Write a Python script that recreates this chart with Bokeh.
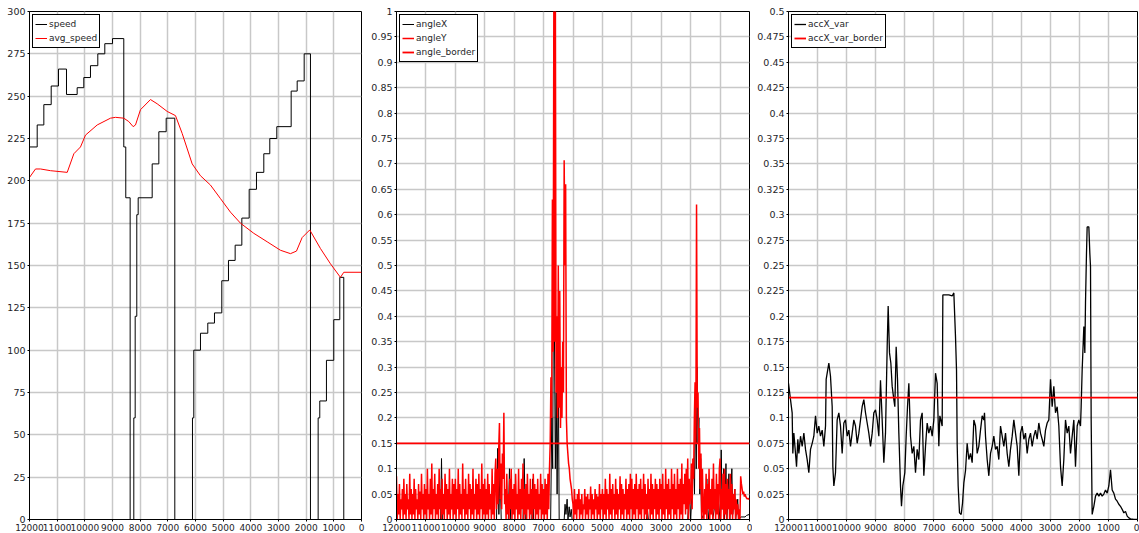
from bokeh.plotting import figure
from bokeh.models import Range1d, FixedTicker, CustomJSTickFormatter
from bokeh.layouts import row
from bokeh.embed import file_html
from bokeh.resources import INLINE

FONT = "DejaVu Sans"

# ---------------- data ----------------
x_ticks = [12000, 11000, 10000, 9000, 8000, 7000, 6000, 5000, 4000, 3000, 2000, 1000, 0]
speed_ticks = [0, 25, 50, 75, 100, 125, 150, 175, 200, 225, 250, 275, 300]
angle_ticks = [0, 0.05, 0.1, 0.15, 0.2, 0.25, 0.3, 0.35, 0.4, 0.45, 0.5, 0.55, 0.6,
               0.65, 0.7, 0.75, 0.8, 0.85, 0.9, 0.95, 1]
acc_ticks = [0, 0.025, 0.05, 0.075, 0.1, 0.125, 0.15, 0.175, 0.2, 0.225, 0.25, 0.275,
             0.3, 0.325, 0.35, 0.375, 0.4, 0.425, 0.45, 0.475, 0.5]

speed_x = [12000, 11722, 11482, 11216, 10952, 10663, 10277, 10037, 9796, 9531, 9278, 9000,
           8592, 8520, 8362, 8230, 8180, 8122, 8072, 7566, 7325, 7060, 6748, 6109, 6062,
           5820, 5556, 5314, 5050, 4808, 4567, 4325, 4060, 3796, 3531, 3315, 3061, 2542,
           2325, 2072, 1845, 1567, 1508, 1267, 1002, 785, 641, 0]
speed = [220, 233, 245, 256, 266, 251, 255, 261, 268, 275, 281, 284,
         220, 190, 0, 60, 120, 180, 190, 210, 229, 237, 0, 60, 100,
         110, 116, 122, 141, 153, 162, 178, 195, 205, 216, 225, 232, 253,
         259, 275, 0, 60, 70, 94, 118, 143, 0, 0]

avg_x = [12000, 11783, 11602, 11241, 10637, 10397, 10157, 9976, 9553, 9073, 8892, 8592,
         8411, 8253, 8169, 7989, 7627, 7385, 7024, 6723, 6482, 6120, 5820, 5459, 5097,
         4736, 4375, 3893, 3410, 2929, 2567, 2351, 2145, 1870, 1483, 1122, 761, 641, 0]
avg_speed = [202, 207, 207, 206, 205, 216, 220, 227, 233, 237, 237.5, 237,
             235, 232, 233, 242, 248, 245.5, 241, 238.5, 228, 210, 203, 197.5, 189.5,
             181.5, 175, 169, 164, 159, 157, 158.5, 166.5, 171, 160, 151, 143, 146, 146]

# angleY sampled every 25 units from 12000 down to 0 (one row per 1000 units)
angle_x = list(range(12000, -1, -25))
angleY = [
    # 12000 .. 11025
    0.085, 0.0, 0.05, 0.01, 0.07, 0.0, 0.04, 0.02, 0.06, 0.0, 0.08, 0.01, 0.05, 0.0, 0.07, 0.02, 0.04, 0.0, 0.09, 0.01,
    0.06, 0.0, 0.05, 0.01, 0.08, 0.0, 0.06, 0.02, 0.04, 0.0, 0.07, 0.01, 0.055, 0.0, 0.09, 0.02, 0.05, 0.0, 0.07, 0.01,
    # 11000 .. 10025
    0.06, 0.0, 0.1, 0.02, 0.05, 0.0, 0.08, 0.01, 0.11, 0.0, 0.06, 0.02, 0.09, 0.0, 0.05, 0.01, 0.07, 0.0, 0.1, 0.02,
    0.06, 0.0, 0.08, 0.01, 0.05, 0.0, 0.09, 0.02, 0.07, 0.0, 0.06, 0.01, 0.1, 0.0, 0.05, 0.02, 0.08, 0.0, 0.07, 0.01,
    # 10000 .. 9025
    0.08, 0.0, 0.06, 0.02, 0.1, 0.0, 0.07, 0.01, 0.05, 0.0, 0.11, 0.02, 0.06, 0.0, 0.08, 0.01, 0.05, 0.0, 0.09, 0.02,
    0.07, 0.0, 0.06, 0.01, 0.1, 0.0, 0.05, 0.02, 0.08, 0.0, 0.07, 0.01, 0.09, 0.0, 0.06, 0.02, 0.11, 0.0, 0.07, 0.01,
    # 9000 .. 8025
    0.08, 0.0, 0.06, 0.01, 0.09, 0.0, 0.07, 0.02, 0.05, 0.0, 0.1, 0.01, 0.07, 0.0, 0.09, 0.12, 0.02, 0.1, 0.03, 0.14,
    0.19, 0.04, 0.11, 0.02, 0.13, 0.08, 0.21, 0.03, 0.06, 0.0, 0.09, 0.01, 0.05, 0.0, 0.08, 0.02, 0.1, 0.0, 0.06, 0.01,
    # 8000 .. 7025
    0.07, 0.0, 0.09, 0.02, 0.05, 0.0, 0.1, 0.01, 0.06, 0.0, 0.08, 0.02, 0.11, 0.0, 0.06, 0.01, 0.07, 0.0, 0.09, 0.02,
    0.05, 0.0, 0.08, 0.01, 0.06, 0.0, 0.09, 0.02, 0.07, 0.0, 0.06, 0.01, 0.08, 0.0, 0.05, 0.02, 0.09, 0.0, 0.07, 0.01,
    # 7000 .. 6025
    0.06, 0.0, 0.08, 0.01, 0.07, 0.0, 0.09, 0.02, 0.1, 0.15, 0.28, 0.2, 0.63, 0.33, 1.05, 0.35, 1.05, 0.25, 0.4, 0.2,
    0.5, 0.22, 0.45, 0.18, 0.3, 0.2, 0.35, 0.25, 0.707, 0.5, 0.66, 0.2, 0.15, 0.13, 0.11, 0.1, 0.08, 0.07, 0.06, 0.04,
    # 6000 .. 5025
    0.03, 0.0, 0.06, 0.01, 0.04, 0.0, 0.05, 0.02, 0.06, 0.0, 0.04, 0.01, 0.05, 0.0, 0.03, 0.02, 0.06, 0.0, 0.045, 0.01,
    0.05, 0.0, 0.04, 0.02, 0.065, 0.0, 0.05, 0.01, 0.04, 0.0, 0.06, 0.02, 0.05, 0.0, 0.045, 0.01, 0.07, 0.0, 0.05, 0.02,
    # 5000 .. 4025
    0.06, 0.0, 0.05, 0.01, 0.08, 0.0, 0.06, 0.02, 0.05, 0.0, 0.09, 0.01, 0.06, 0.0, 0.07, 0.02, 0.05, 0.0, 0.08, 0.01,
    0.06, 0.0, 0.05, 0.02, 0.085, 0.0, 0.07, 0.01, 0.06, 0.0, 0.05, 0.02, 0.08, 0.0, 0.06, 0.01, 0.07, 0.0, 0.09, 0.02,
    # 4000 .. 3025
    0.08, 0.0, 0.06, 0.01, 0.07, 0.0, 0.09, 0.02, 0.06, 0.0, 0.07, 0.01, 0.08, 0.0, 0.06, 0.02, 0.09, 0.0, 0.07, 0.01,
    0.05, 0.0, 0.08, 0.02, 0.06, 0.0, 0.09, 0.01, 0.07, 0.0, 0.06, 0.02, 0.08, 0.0, 0.07, 0.01, 0.06, 0.0, 0.08, 0.02,
    # 3000 .. 2025
    0.07, 0.0, 0.09, 0.01, 0.06, 0.0, 0.1, 0.02, 0.07, 0.0, 0.08, 0.01, 0.06, 0.0, 0.1, 0.02, 0.07, 0.0, 0.09, 0.01,
    0.06, 0.0, 0.1, 0.02, 0.07, 0.0, 0.08, 0.01, 0.11, 0.0, 0.07, 0.03, 0.09, 0.01, 0.1, 0.02, 0.12, 0.0, 0.08, 0.03,
    # 2000 .. 1025
    0.05, 0.11, 0.02, 0.12, 0.08, 0.2, 0.27, 0.15, 0.62, 0.22, 0.25, 0.1, 0.18, 0.06, 0.13, 0.0, 0.1, 0.02, 0.0, 0.06,
    0.01, 0.09, 0.0, 0.07, 0.02, 0.1, 0.0, 0.06, 0.01, 0.08, 0.0, 0.11, 0.02, 0.06, 0.0, 0.09, 0.01, 0.07, 0.0, 0.1,
    # 1000 .. 25
    0.12, 0.0, 0.06, 0.02, 0.09, 0.0, 0.1, 0.01, 0.07, 0.0, 0.08, 0.02, 0.06, 0.0, 0.09, 0.01, 0.07, 0.0, 0.05, 0.02,
    0.06, 0.0, 0.04, 0.01, 0.03, 0.0, 0.02, 0.0, 0.085, 0.07, 0.06, 0.05, 0.055, 0.045, 0.05, 0.045, 0.042, 0.04, 0.042, 0.04,
    # 0
    0.04,
]

angleX_x = [12000, 10500, 10470, 10440, 8600, 8560, 8520, 8480, 8440, 8200, 8160, 8120,
            7700, 7660, 7620, 7400, 7370, 7340, 6760, 6720, 6690, 6660, 6630, 6600, 6570,
            6540, 6500, 6470, 6300, 6270, 6240, 6200, 6170, 6130, 6100, 6060, 6030, 3500,
            3470, 3440, 2100, 2050, 2000, 1900, 1870, 1840, 1810, 1780, 1750, 1720, 1690,
            1660, 1630, 1500, 1450, 1400, 1300, 1250, 1100, 1000, 960, 930, 880, 850, 800,
            770, 700, 670, 600, 570, 500, 470, 400, 370, 300, 150, 100, 0]
angleX = [0, 0, 0.12, 0, 0, 0.14, 0.01, 0.1, 0, 0, 0.1, 0,
          0, 0.12, 0, 0, 0.08, 0, 0, 0.2, 0.1, 0.54, 0.36, 0.1, 0.25,
          0.05, 0.3, 0.0, 0.0, 0.03, 0.01, 0.04, 0.0, 0.025, 0.005, 0.02, 0, 0,
          0.02, 0, 0, 0.06, 0, 0.12, 0.05, 0.25, 0.1, 0.3, 0.15, 0.2, 0.05,
          0.12, 0.0, 0.02, 0.08, 0.0, 0.05, 0.0, 0.06, 0.0, 0.137, 0.02, 0.1, 0.0, 0.11,
          0.0, 0.09, 0.0, 0.1, 0.01, 0.06, 0.0, 0.04, 0.0, 0.005, 0.005, 0.008, 0.01]

angle_border = [0.15, 0.15]
border_x = [12000, 0]

acc_x = [12000, 11931, 11874, 11851, 11816, 11759, 11724, 11679, 11644, 11587, 11530, 11472,
         11415, 11358, 11301, 11243, 11186, 11129, 11071, 11014, 10957, 10900, 10842, 10785,
         10727, 10705, 10670, 10613, 10556, 10498, 10475, 10441, 10384, 10327, 10269, 10212,
         10155, 10097, 10040, 9983, 9925, 9868, 9811, 9754, 9696, 9639, 9581, 9524, 9467,
         9410, 9352, 9295, 9238, 9180, 9123, 9066, 9008, 8951, 8894, 8837, 8779, 8722, 8665,
         8607, 8573, 8527, 8481, 8435, 8378, 8344, 8298, 8252, 8206, 8149, 8115, 8069, 8000,
         7954, 7908, 7862, 7805, 7748, 7690, 7633, 7576, 7518, 7461, 7404, 7347, 7289, 7232,
         7175, 7117, 7060, 7003, 6945, 6888, 6831, 6796, 6762, 6716, 6693, 6601, 6487, 6372,
         6315, 6258, 6223, 6200, 6166, 6120, 6063, 6017, 5971, 5914, 5857, 5800, 5742, 5685,
         5627, 5570, 5513, 5456, 5398, 5341, 5284, 5261, 5226, 5169, 5112, 5054, 4997, 4940,
         4883, 4825, 4768, 4710, 4653, 4596, 4538, 4481, 4424, 4367, 4309, 4252, 4195, 4137,
         4080, 4023, 3965, 3908, 3851, 3794, 3736, 3679, 3622, 3564, 3507, 3450, 3393, 3335,
         3278, 3221, 3163, 3106, 3049, 2991, 2934, 2877, 2820, 2762, 2705, 2647, 2590, 2533,
         2476, 2418, 2361, 2304, 2246, 2189, 2132, 2074, 2017, 1960, 1937, 1903, 1845, 1811,
         1788, 1754, 1731, 1673, 1639, 1616, 1593, 1559, 1501, 1444, 1387, 1329, 1272, 1215,
         1158, 1100, 1043, 986, 928, 871, 814, 756, 699, 642, 585, 527, 470, 413, 355, 298,
         241, 126, 0]
accX_var = [0.134, 0.118, 0.105, 0.065, 0.085, 0.065, 0.052, 0.079, 0.065, 0.082, 0.072, 0.085,
            0.069, 0.059, 0.046, 0.069, 0.075, 0.082, 0.102, 0.085, 0.092, 0.082, 0.088, 0.072,
            0.092, 0.138, 0.144, 0.154, 0.141, 0.111, 0.052, 0.033, 0.046, 0.098, 0.105, 0.092,
            0.065, 0.095, 0.098, 0.082, 0.088, 0.072, 0.085, 0.098, 0.092, 0.075, 0.085, 0.098, 0.111,
            0.118, 0.105, 0.095, 0.085, 0.072, 0.085, 0.105, 0.108, 0.098, 0.082, 0.137, 0.098, 0.056, 0.085,
            0.170, 0.210, 0.164, 0.154, 0.131, 0.118, 0.111, 0.170, 0.138, 0.085, 0.033, 0.013, 0.033, 0.046,
            0.082, 0.111, 0.134, 0.082, 0.065, 0.072, 0.046, 0.069, 0.059, 0.098, 0.105, 0.043, 0.072, 0.095,
            0.085, 0.092, 0.082, 0.098, 0.144, 0.134, 0.072, 0.102, 0.098, 0.092, 0.221, 0.221, 0.221, 0.220,
            0.223, 0.180, 0.147, 0.073, 0.033, 0.0065, 0.005, 0.016, 0.036, 0.048, 0.075, 0.059, 0.065, 0.056,
            0.098, 0.092, 0.065, 0.072, 0.088, 0.102, 0.098, 0.105, 0.082, 0.059, 0.043, 0.065, 0.072, 0.082,
            0.069, 0.072, 0.059, 0.092, 0.082, 0.072, 0.085, 0.065, 0.052, 0.069, 0.082, 0.098, 0.085, 0.072,
            0.043, 0.085, 0.092, 0.079, 0.085, 0.065, 0.079, 0.085, 0.072, 0.082, 0.088, 0.079, 0.095, 0.085,
            0.079, 0.072, 0.088, 0.095, 0.098, 0.138, 0.111, 0.131, 0.105, 0.111, 0.092, 0.052, 0.033, 0.059,
            0.098, 0.085, 0.092, 0.065, 0.082, 0.098, 0.052, 0.092, 0.098, 0.092, 0.111, 0.147, 0.190, 0.164,
            0.213, 0.262, 0.288, 0.288, 0.262, 0.249, 0.098, 0.005, 0.013, 0.023, 0.026, 0.023, 0.026, 0.023,
            0.025, 0.029, 0.026, 0.033, 0.049, 0.029, 0.026, 0.020, 0.018, 0.015, 0.013, 0.010, 0.0065, 0.008, 0.0033, 0.0016,
            0.0007, 0.0, 0.0]
accX_var_border = [0.12, 0.12]

# ---------------- figures ----------------
def make_fig(width, ymax, yticks, border_left, border_right):
    p = figure(width=width, height=533, x_range=Range1d(12000, 0), y_range=Range1d(0, ymax),
               output_backend="svg", toolbar_location=None,
               min_border_left=border_left, min_border_right=border_right,
               min_border_top=11, min_border_bottom=0)
    p.outline_line_color = "black"
    p.outline_line_width = 1
    p.background_fill_color = "white"
    p.border_fill_color = "white"
    p.xaxis.ticker = FixedTicker(ticks=x_ticks)
    p.yaxis.ticker = FixedTicker(ticks=yticks)
    p.yaxis.formatter = CustomJSTickFormatter(code="return String(Math.round(tick*1000)/1000);")
    p.xaxis.formatter = CustomJSTickFormatter(code="return String(Math.round(tick));")
    for ax in (p.xaxis[0], p.yaxis[0]):
        ax.axis_line_color = "black"
        ax.axis_line_width = 1
        ax.major_tick_out = 2
        ax.major_tick_in = 0
        ax.major_tick_line_color = "black"
        ax.minor_tick_line_color = None
        ax.major_label_text_font = FONT
        ax.major_label_text_font_size = "9.5px"
        ax.major_label_text_color = "#1e1e28"
        ax.major_label_standoff = 2
    p.xaxis.major_label_text_font_size = "9px"
    p.grid.grid_line_color = "#c8c8c8"
    p.grid.grid_line_width = 1.5
    return p


def style_legend(p):
    lg = p.legend[0]
    lg.location = "top_left"
    lg.margin = 3
    lg.padding = 2
    lg.spacing = 0
    lg.label_text_font = FONT
    lg.label_text_font_size = "9px"
    lg.label_text_color = "#1e1e28"
    lg.label_height = 14
    lg.glyph_height = 14
    lg.glyph_width = 12
    lg.label_standoff = 2
    lg.border_line_color = "black"
    lg.border_line_width = 1
    lg.border_line_alpha = 1
    lg.background_fill_color = "white"
    lg.background_fill_alpha = 1


p1 = make_fig(368, 300, speed_ticks, 29, 7)
p1.step(speed_x, speed, mode="after", line_color="black", line_width=1, legend_label="speed")
p1.line(avg_x, avg_speed, line_color="#ff0000", line_width=1, legend_label="avg_speed")
style_legend(p1)

p2 = make_fig(384, 1, angle_ticks, 27, 3)
p2.line(angleX_x, angleX, line_color="black", line_width=1, legend_label="angleX")
p2.line(angle_x, angleY, line_color="#ff0000", line_width=1.5, legend_label="angleY")
p2.line(border_x, angle_border, line_color="#ff0000", line_width=1.8, legend_label="angle_border")
style_legend(p2)

p3 = make_fig(387, 0.5, acc_ticks, 36, 2)
p3.line(acc_x, accX_var, line_color="black", line_width=1.3, legend_label="accX_var")
p3.line(border_x, accX_var_border, line_color="#ff0000", line_width=1.8, legend_label="accX_var_border")
style_legend(p3)

layout = row(p1, p2, p3, spacing=0)
open("out.html", "w").write(file_html(layout, INLINE))
